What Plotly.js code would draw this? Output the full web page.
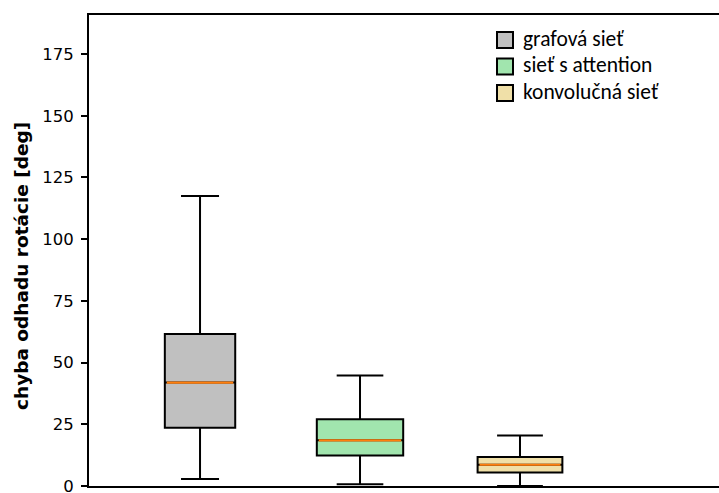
<!DOCTYPE html>
<html>
<head>
<meta charset="utf-8">
<script src="https://cdn.plot.ly/plotly-3.0.1.min.js"></script>
<style>html,body{margin:0;padding:0;background:#fff;}#chart{width:719px;height:493px;}</style>
</head>
<body>
<div id="chart"></div>
<script>
// Data
const seriesNames = ["grafová sieť", "sieť s attention", "konvolučná sieť"];
const lowerWhisker = [2.8, 0.7, 0.0];
const q1Values     = [23.6, 12.4, 5.5];
const medianValues = [41.9, 18.5, 8.6];
const q3Values     = [61.6, 27.0, 11.7];
const upperWhisker = [117.5, 44.8, 20.5];
const yTickValues  = [0, 25, 50, 75, 100, 125, 150, 175];
const yTitle = "chyba odhadu rotácie [deg]";

// Styling
const fillColors = ["#c0c0c0", "#a1e5ae", "#f0e0a8"];
const positions = [1, 2, 3];
const boxWidths = [0.44, 0.54, 0.53];

// Plot-area geometry helpers (for the hand-made legend)
const PL = 89, PW = 630, PB = 486, PH = 471;
const px2x = p => (p - PL) / PW;
const px2y = p => (PB - p) / PH;

const traces = [];
seriesNames.forEach((name, i) => {
  traces.push({
    type: "box",
    name: name,
    x: [positions[i]],
    q1: [q1Values[i]],
    median: [medianValues[i]],
    q3: [q3Values[i]],
    lowerfence: [lowerWhisker[i]],
    upperfence: [upperWhisker[i]],
    boxpoints: false,
    width: boxWidths[i],
    whiskerwidth: 0.54,
    fillcolor: fillColors[i],
    line: {color: "#000", width: 2},
    hoverinfo: "skip",
    showlegend: false
  });
});
seriesNames.forEach((name, i) => {
  traces.push({
    type: "scatter",
    mode: "lines",
    x: [positions[i] - boxWidths[i] / 2 + 0.012, positions[i] + boxWidths[i] / 2 - 0.012],
    y: [medianValues[i], medianValues[i]],
    line: {color: "#ff7f0e", width: 2.2},
    showlegend: false,
    hoverinfo: "skip"
  });
});

// Legend built from series names / colours
const legendRowY = [40, 66.5, 93];
const shapes = [];
const annotations = [];
seriesNames.forEach((name, i) => {
  shapes.push({
    type: "rect", xref: "paper", yref: "paper",
    x0: px2x(497), x1: px2x(513),
    y0: px2y(legendRowY[i] + 8), y1: px2y(legendRowY[i] - 8),
    fillcolor: fillColors[i],
    line: {color: "#000", width: 2}
  });
  annotations.push({
    text: name, xref: "paper", yref: "paper",
    x: px2x(521), y: px2y(legendRowY[i] - 1),
    xanchor: "left", yanchor: "middle", showarrow: false,
    font: {family: "Carlito", size: 21.5, color: "#000"}
  });
});
annotations.push({
  text: yTitle,
  xref: "paper", yref: "paper",
  x: px2x(21), y: px2y(266),
  xanchor: "center", yanchor: "middle",
  textangle: -90,
  showarrow: false,
  font: {family: "DejaVu Sans", size: 18.5, color: "#000", weight: "bold"}
});

const layout = {
  width: 719,
  height: 493,
  margin: {l: 89, r: 0, t: 15, b: 7},
  paper_bgcolor: "#fff",
  plot_bgcolor: "#fff",
  showlegend: false,
  xaxis: {
    range: [0.306, 4.244],
    showticklabels: false,
    ticks: "",
    showgrid: false,
    zeroline: false,
    showline: true,
    mirror: true,
    linecolor: "#000",
    linewidth: 2
  },
  yaxis: {
    range: [0, 190.8],
    tickvals: yTickValues,
    ticktext: yTickValues.map(String),
    ticks: "outside",
    ticklen: 6,
    tickwidth: 2,
    tickcolor: "#000",
    ticklabeloverflow: "allow",
    ticklabelstandoff: 4,
    showgrid: false,
    zeroline: false,
    showline: true,
    linecolor: "#000",
    linewidth: 2,
    automargin: false,
    tickfont: {family: "DejaVu Sans", size: 16.5, color: "#000"}
  },
  shapes: shapes,
  annotations: annotations
};

Plotly.newPlot("chart", traces, layout, {displayModeBar: false, staticPlot: true});
</script>
</body>
</html>
